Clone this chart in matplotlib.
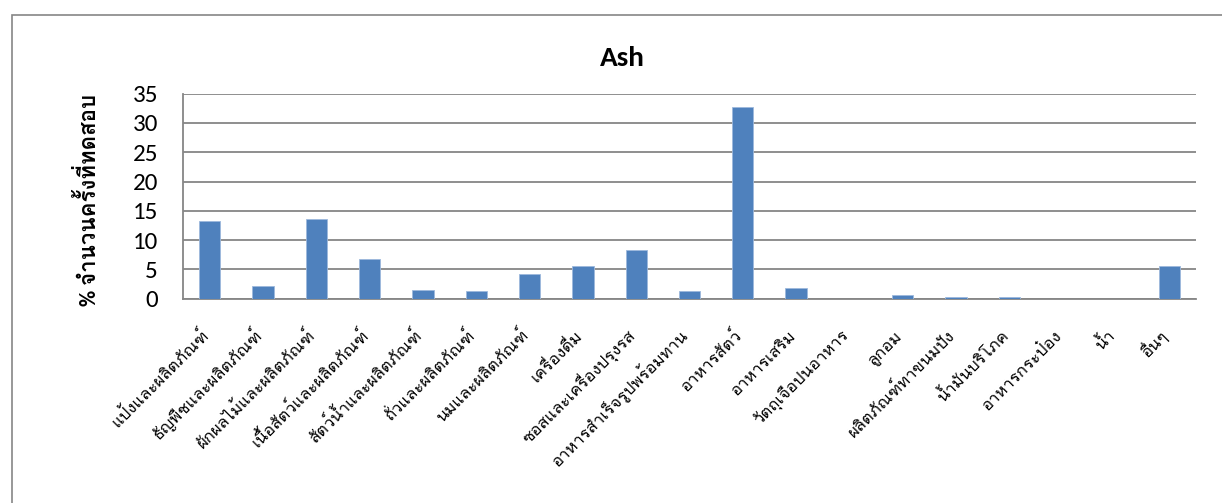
import matplotlib
matplotlib.use("Agg")
import matplotlib.pyplot as plt
from matplotlib.patches import Rectangle
import numpy as np

# food groups and share of ash tests (%)
categories = ['แป้งและผลิตภัณฑ์', 'ธัญพืชและผลิตภัณฑ์', 'ผักผลไม้และผลิตภัณฑ์',
              'เนื้อสัตว์และผลิตภัณฑ์', 'สัตว์น้ำและผลิตภัณฑ์', 'ถั่วและผลิตภัณฑ์',
              'นมและผลิตภัณฑ์', 'เครื่องดื่ม', 'ซอสและเครื่องปรุงรส',
              'อาหารสำเร็จรูปพร้อมทาน', 'อาหารสัตว์', 'อาหารเสริม',
              'วัตถุเจือปนอาหาร', 'ลูกอม', 'ผลิตภัณฑ์ทาขนมปัง', 'น้ำมันบริโภค',
              'อาหารกระป๋อง', 'น้ำ', 'อื่นๆ']
values = [13.3, 2.2, 13.6, 6.7, 1.5, 1.4, 4.3, 5.6, 8.4, 1.4,
          32.7, 1.8, 0.0, 0.7, 0.3, 0.3, 0.0, 0.0, 5.5]
yticks = [0, 5, 10, 15, 20, 25, 30, 35]

latin = ['Carlito', 'Loma']
thai = ['Loma', 'Carlito']
grey = '#868686'

fig = plt.figure(figsize=(12.22, 5.03), dpi=100)

# chart area border
fig.patches.append(Rectangle((12 / 1222, -0.1), 1.2, 1.1 - 15 / 503,
                             transform=fig.transFigure, fill=False,
                             edgecolor=grey, linewidth=1.2))

ax = fig.add_axes([183 / 1222, 1 - 298.7 / 503, 1013 / 1222, 205 / 503])
x = np.arange(len(categories))
ax.bar(x, values, width=0.4, color='#4F81BD', edgecolor='#9DB9DC',
       linewidth=0.6, zorder=3)

ax.set_xlim(-0.5, len(categories) - 0.5)
ax.set_ylim(0, 35)
ax.set_yticks(yticks)
ax.set_yticklabels([str(v) for v in yticks], family=latin, fontsize=18)
ax.yaxis.grid(True, color=grey, linewidth=1.3, zorder=0)
ax.set_axisbelow(True)
ax.tick_params(axis='y', length=0, pad=18)
ax.tick_params(axis='x', length=0, pad=27)

ax.set_xticks(x)
ax.set_xticklabels(categories, rotation=45, ha='right', va='baseline',
                   rotation_mode='anchor', family=thai, fontsize=12)

for side in ('top', 'right'):
    ax.spines[side].set_visible(False)
for side in ('left', 'bottom'):
    ax.spines[side].set_color(grey)
    ax.spines[side].set_linewidth(1.3)

fig.text(622 / 1222, 1 - 66 / 503, 'Ash', ha='center', va='baseline',
         fontsize=21, fontweight='bold', family=latin)
ax.set_ylabel('% จำนวนครั้งที่ทดสอบ', fontsize=16, fontweight='bold',
              family=latin)
ax.yaxis.set_label_coords(-0.082, 0.48)

fig.savefig('out.png', dpi=100)
